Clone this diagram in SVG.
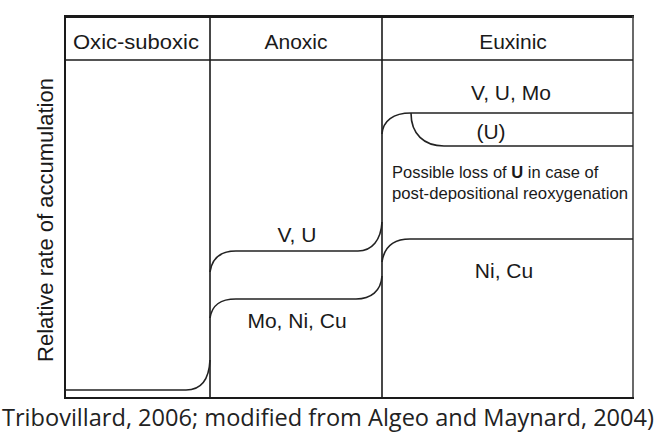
<svg xmlns="http://www.w3.org/2000/svg" width="658" height="436" viewBox="0 0 658 436">
<style>
.fr{fill:none;stroke:#1a1a1a;stroke-width:1.6}
.cv{fill:none;stroke:#222;stroke-width:1.6}
.t{font-family:"Liberation Sans",Arial,sans-serif;fill:#1a1a1a}
.h{font-size:21px;text-anchor:middle}
.s{font-size:16.5px}
.cap{font-family:"Open Sans","Noto Sans",sans-serif;font-size:23px;fill:#222}
</style>
<rect width="658" height="436" fill="#fff"/>
<g id="frame">
<line class="fr" x1="65" y1="16.5" x2="634" y2="16.5" style="stroke-width:3"/>
<line class="fr" x1="65" y1="15" x2="65" y2="399" style="stroke-width:2"/>
<line class="fr" x1="633" y1="16" x2="633" y2="399" style="stroke:#444"/>
<line class="fr" x1="64" y1="398" x2="634" y2="398" style="stroke-width:2"/>
<line class="fr" x1="65" y1="60" x2="633" y2="60"/>
<line class="fr" x1="210" y1="16" x2="210" y2="398"/>
<line class="fr" x1="382" y1="16" x2="382" y2="398"/>
</g>
<g id="headers">
<text class="t h" x="136" y="49" textLength="126" lengthAdjust="spacingAndGlyphs">Oxic-suboxic</text>
<text class="t h" x="296" y="49">Anoxic</text>
<text class="t h" x="513" y="49">Euxinic</text>
</g>
<g id="y-axis">
<text class="t" font-size="21.5" text-anchor="middle" transform="translate(53,220) rotate(-90)" textLength="284" lengthAdjust="spacingAndGlyphs">Relative rate of accumulation</text>
</g>
<g id="connectors">
<path class="cv" d="M65,390 L186,390 C201,390 209,380 210,360"/>
<path class="cv" d="M210,272 C212,258 220,251 236,251 L358,251 C372,251 381,240 382,222"/>
<path class="cv" d="M210,318 C212,305 220,299 236,299 L356,299 C371,299 381,291 382,276"/>
<path class="cv" d="M382,262 C384,248 393,239 410,239 L633,239"/>
<path class="cv" d="M382,134 C383,121 393,113 411,113 L633,113"/>
<path class="cv" d="M411,113 C411,134 424,146 444,146 L633,146"/>
</g>
<g id="labels">
<text class="t h" x="511" y="100">V, U, Mo</text>
<text class="t h" x="491" y="139">(U)</text>
<text class="t s" x="392" y="178">Possible loss of <tspan font-weight="bold">U</tspan> in case of</text>
<text class="t s" x="392" y="199" textLength="236" lengthAdjust="spacingAndGlyphs">post-depositional reoxygenation</text>
<text class="t h" x="297" y="242">V, U</text>
<text class="t h" x="297" y="328">Mo, Ni, Cu</text>
<text class="t h" x="504" y="278">Ni, Cu</text>
</g>
<g id="caption">
<text class="cap" x="2" y="426" textLength="652" lengthAdjust="spacingAndGlyphs">Tribovillard, 2006; modified from Algeo and Maynard, 2004)</text>
</g>
</svg>
